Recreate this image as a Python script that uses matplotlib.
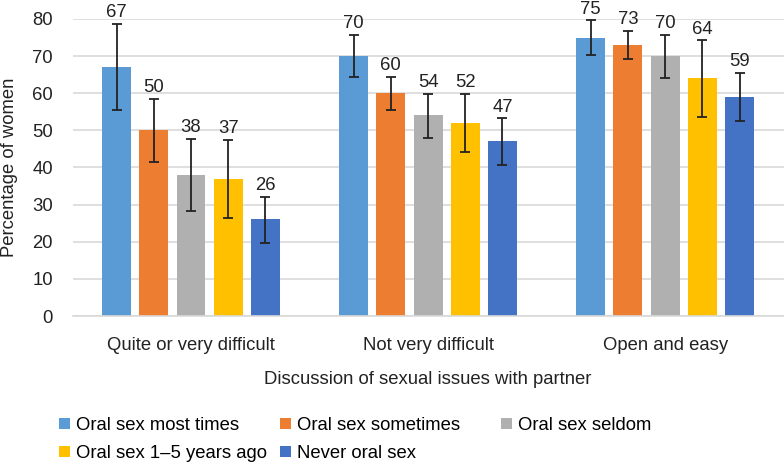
import numpy as np
import matplotlib.pyplot as plt

plt.rcParams['font.family'] = ['Liberation Sans', 'DejaVu Sans']

categories = ["Quite or very difficult", "Not very difficult", "Open and easy"]
series = ["Oral sex most times", "Oral sex sometimes", "Oral sex seldom",
          "Oral sex 1\u20135 years ago", "Never oral sex"]
values = [
    [67, 70, 75],
    [50, 60, 73],
    [38, 54, 70],
    [37, 52, 64],
    [26, 47, 59],
]
ci_low = [
    [55.5, 64.3, 70.3],
    [41.4, 55.6, 69.1],
    [28.4, 48.0, 64.2],
    [26.5, 44.1, 53.6],
    [19.7, 40.8, 52.5],
]
ci_high = [
    [78.7, 75.7, 79.6],
    [58.5, 64.4, 76.8],
    [47.7, 59.9, 75.8],
    [47.4, 59.9, 74.3],
    [32.1, 53.2, 65.5],
]
colors = ["#5B9BD5", "#ED7D31", "#B0B0B0", "#FFC000", "#4472C4"]
fs = 13.3

fig = plt.figure(figsize=(7.84, 4.62), dpi=100)
ax = fig.add_axes([0.0925, 0.316, 0.907, 0.643])

x = np.arange(len(categories))
step = 0.157
width = 0.122
handles = []
for i, name in enumerate(series):
    pos = x + (i - 2) * step
    v = np.array(values[i])
    err = np.array([v - np.array(ci_low[i]), np.array(ci_high[i]) - v])
    b = ax.bar(pos, v, width, color=colors[i], label=name, zorder=2)
    handles.append(b)
    ax.errorbar(pos, v, yerr=err, fmt='none', ecolor='#222222', elinewidth=1.3,
                capsize=3.8, capthick=1.3, zorder=3)
    for px, val, hi in zip(pos, v, ci_high[i]):
        ax.text(px, hi + 0.7, str(val), ha='center', va='bottom', fontsize=fs,
                color='#222222', clip_on=False)

ax.set_xlim(-0.5, 2.5)
ax.set_ylim(0, 80)
ax.set_yticks(range(0, 81, 10))
ax.set_xticks(x)
ax.set_xticklabels(categories, fontsize=fs, color='#222222')
ax.tick_params(axis='y', labelsize=fs, length=0, pad=14, labelcolor='#222222')
ax.tick_params(axis='x', length=0, pad=15)
ax.grid(axis='y', color='#D9D9D9', linewidth=1.2, zorder=0)
ax.set_axisbelow(True)
for s in ['top', 'right', 'left']:
    ax.spines[s].set_visible(False)
ax.spines['bottom'].set_color('#D9D9D9')
ax.spines['bottom'].set_linewidth(1.2)

ax.set_ylabel("Percentage of women", fontsize=fs, labelpad=10, color='#222222')
ax.set_xlabel("Discussion of sexual issues with partner", fontsize=fs, labelpad=12,
              color='#222222')

# legend laid out like the original: three fixed-width columns, two rows
columns = [[0, 3], [1, 4], [2]]
col_x = [59, 280, 501]
for idx, cx in zip(columns, col_x):
    leg = fig.legend([handles[k] for k in idx], [series[k] for k in idx],
                     loc='upper left', bbox_to_anchor=(cx / 784, 1 - 417 / 462),
                     ncol=1, frameon=False, fontsize=fs, handlelength=0.6,
                     handleheight=0.6, handletextpad=0.3, labelspacing=0.6,
                     borderpad=0, borderaxespad=0)

fig.savefig("out.png", dpi=100)
